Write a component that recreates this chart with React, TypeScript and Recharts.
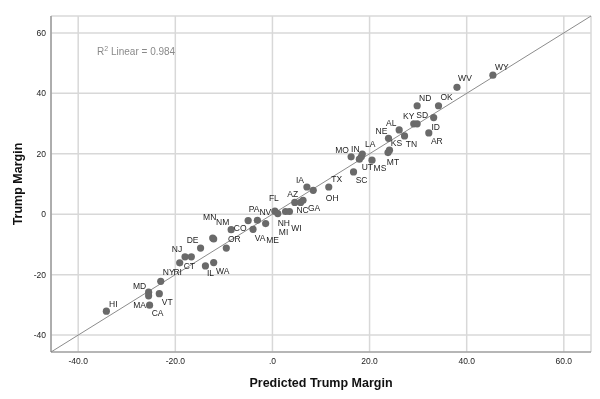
import React from "react";
import {
  ScatterChart,
  Scatter,
  XAxis,
  YAxis,
  CartesianGrid,
  ReferenceLine,
  Label,
} from "recharts";

// ---- data ----
const states = [
  "WY","WV","ND","OK","KY","SD","ID","AR","TN","AL",
  "NE","KS","MT","LA","IN","UT","MO","MS","SC","TX",
  "OH","IA","AZ","NC","GA","FL","NH","MI","WI","PA",
  "NV","ME","VA","CO","NM","MN","OR","DE","NJ","CT",
  "RI","NY","IL","WA","MD","MA","VT","CA","HI",
];
const predictedMargin = [
  45.4, 38.0, 29.8, 34.2, 29.1, 29.8, 33.2, 32.2, 27.2, 26.1,
  23.9, 24.1, 23.8, 18.5, 18.3, 17.9, 16.2, 20.5, 16.7, 11.6,
  8.4, 7.1, 4.6, 5.8, 6.3, 0.5, 1.1, 2.7, 3.5, -5.0,
  -3.1, -1.4, -4.0, -8.5, -12.1, -12.3, -9.5, -14.8, -18.0, -16.7,
  -19.1, -23.0, -13.8, -12.1, -25.5, -25.5, -23.3, -25.3, -34.2,
];
const trumpMargin = [
  46.0, 42.0, 35.9, 35.9, 29.9, 29.9, 32.0, 26.9, 25.9, 27.9,
  25.1, 21.2, 20.4, 19.9, 19.0, 18.2, 19.0, 17.9, 14.0, 9.0,
  7.9, 9.0, 3.9, 3.9, 4.6, 1.0, 0.2, 0.9, 0.9, -2.1,
  -2.0, -3.1, -5.0, -5.1, -8.2, -7.9, -11.2, -11.2, -14.1, -14.1,
  -16.1, -22.2, -17.1, -16.0, -25.8, -27.0, -26.3, -30.1, -32.1,
];
const xTicks = [-40, -20, 0, 20, 40, 60];
const yTicks = [-40, -20, 0, 20, 40, 60];
const axisDomain: [number, number] = [-45.6, 65.6];
const fitSlope = 1.0;
const fitIntercept = 0.0;
const rSquared = 0.984;

// label placement (style): offset of each case label from its point, in px
const labelOffsets: Record<string, [number, number]> = {
  WY: [9, -8], WV: [8, -9], ND: [8, -8], OK: [8, -9], KY: [-5, -8],
  SD: [5, -9], ID: [2, 9], AR: [8, 8], TN: [7, 8], AL: [-8, -7],
  NE: [-7, -7], KS: [7, -7], MT: [5, 9], LA: [8, -10], IN: [-6, -8],
  UT: [8, 8], MO: [-9, -7], MS: [8, 8], SC: [8, 8], TX: [8, -8],
  OH: [19, 8], IA: [-7, -7], AZ: [-2, -8], NC: [2, 8], GA: [11, 8],
  FL: [-1, -13], NH: [6, 9], MI: [-2, 21], WI: [7, 17], PA: [6, -12],
  NV: [8, -8], ME: [7, 16], VA: [7, 9], CO: [9, -2], NM: [9, -17],
  MN: [-3, -21], OR: [8, -9], DE: [-8, -8], NJ: [-8, -8], CT: [-2, 9],
  RI: [-2, 9], NY: [8, -9], IL: [5, 7], WA: [9, 8], MD: [-9, -6],
  MA: [-9, 9], VT: [8, 8], CA: [8, 8], HI: [7, -7],
};

const tableData = states.map((s, i) => ({
  state: s,
  x: predictedMargin[i],
  y: trumpMargin[i],
}));

const FONT = "'Liberation Sans', Arial, sans-serif";

const PointShape = (props: any) => {
  const { cx, cy, payload } = props;
  const off = labelOffsets[payload.state] || [7, -7];
  return (
    <g>
      <circle cx={cx} cy={cy} r={3.6} fill="#6a6a6a" />
      <text
        x={cx + off[0]}
        y={cy + off[1]}
        textAnchor="middle"
        dominantBaseline="central"
        fontSize={8.5}
        fontFamily={FONT}
        fill="#1e1e1e"
      >
        {payload.state}
      </text>
    </g>
  );
};

const fmtX = (v: number) => (v === 0 ? ".0" : v.toFixed(1));

const YTitle = (props: any) => {
  const vb = props.viewBox || { x: 0, y: 16, width: 51, height: 336 };
  const cx = vb.x + 18;
  const cy = vb.y + vb.height / 2;
  return (
    <text
      x={cx}
      y={cy}
      transform={`rotate(-90 ${cx} ${cy})`}
      textAnchor="middle"
      dominantBaseline="central"
      fontSize={12.5}
      fontWeight="bold"
      fontFamily={FONT}
      fill="#111"
    >
      Trump Margin
    </text>
  );
};

const XTitle = (props: any) => {
  const vb = props.viewBox || { x: 51, y: 352, width: 540, height: 47 };
  const cx = vb.x + vb.width / 2;
  const cy = vb.y + 31;
  return (
    <text
      x={cx}
      y={cy}
      textAnchor="middle"
      dominantBaseline="central"
      fontSize={12.5}
      fontWeight="bold"
      fontFamily={FONT}
      fill="#111"
    >
      Predicted Trump Margin
    </text>
  );
};

export default function App() {
  const seg = [
    { x: axisDomain[0], y: fitIntercept + fitSlope * axisDomain[0] },
    { x: axisDomain[1], y: fitIntercept + fitSlope * axisDomain[1] },
  ];
  return (
    <div
      style={{
        position: "absolute",
        left: 0,
        top: 0,
        width: 600,
        height: 399,
        willChange: "transform",
      }}
    >
      <ScatterChart
        width={600}
        height={399}
        margin={{ top: 16, right: 9, left: 0, bottom: 0 }}
      >
        <CartesianGrid
          stroke="#d8d8d8"
          strokeWidth={1.5}
          horizontal
          vertical
        />
        <XAxis
          type="number"
          dataKey="x"
          domain={axisDomain}
          ticks={xTicks}
          tickFormatter={fmtX}
          allowDataOverflow
          height={47}
          tickLine={false}
          tickSize={4}
          axisLine={{ stroke: "#8a8a8a", strokeWidth: 1.2 }}
          tick={{ fontSize: 8.5, fontFamily: FONT, fill: "#222" }}
        >
          <Label content={<XTitle />} />
        </XAxis>
        <YAxis
          type="number"
          dataKey="y"
          domain={axisDomain}
          ticks={yTicks}
          allowDataOverflow
          width={51}
          tickLine={false}
          tickSize={3}
          axisLine={{ stroke: "#8a8a8a", strokeWidth: 1.2 }}
          tick={{ fontSize: 8.5, fontFamily: FONT, fill: "#222" }}
        >
          <Label content={<YTitle />} />
        </YAxis>
        <ReferenceLine
          segment={seg}
          stroke="#8c8c8c"
          strokeWidth={1}
          ifOverflow="visible"
        />
        <Scatter
          data={tableData}
          isAnimationActive={false}
          shape={<PointShape />}
        />
      </ScatterChart>
      <div
        style={{
          position: "absolute",
          left: 97,
          top: 46,
          fontFamily: FONT,
          fontSize: 10,
          color: "#8a8a8a",
          whiteSpace: "nowrap",
          lineHeight: "12px",
        }}
      >
        R<sup style={{ fontSize: 7, verticalAlign: "4px", lineHeight: 0 }}>2</sup>{" "}
        Linear = {rSquared.toFixed(3)}
      </div>
    </div>
  );
}
